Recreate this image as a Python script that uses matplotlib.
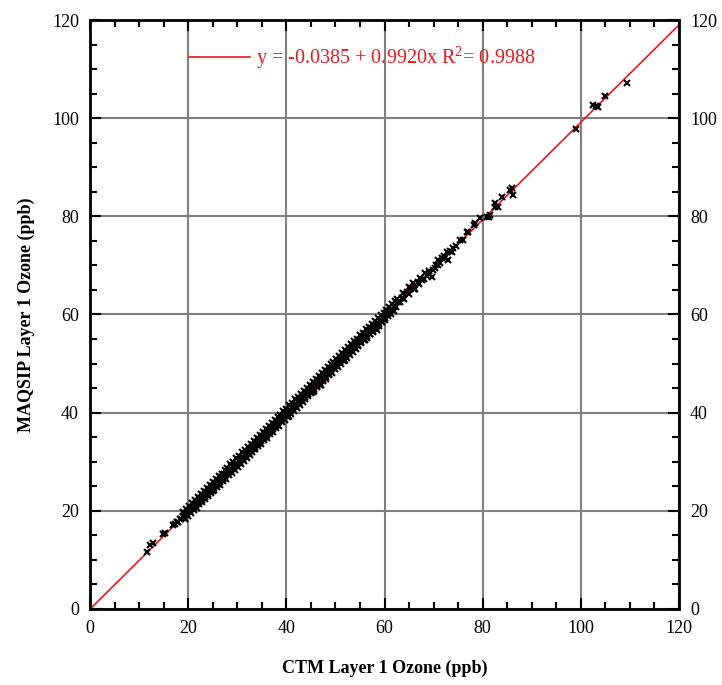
import matplotlib
matplotlib.use("Agg")
import matplotlib.pyplot as plt
from matplotlib.ticker import MultipleLocator

plt.rcParams['font.family'] = ['Liberation Serif', 'DejaVu Serif']
plt.rcParams['mathtext.fontset'] = 'custom'
plt.rcParams['mathtext.rm'] = 'Liberation Serif'

# regression from the chart
intercept = -0.0385
slope = 0.9920
r2 = 0.9988

# (CTM, MAQSIP) pairs, in ppb
low_tail = [(11.6, 11.6), (12.2, 13.0), (12.8, 13.4), (14.9, 15.3), (15.3, 15.5),
            (17.0, 17.2)]

dense_band = [
    (17.4, 17.3), (17.7, 17.8), (18.0, 17.7), (18.3, 18.3), (18.6, 18.3), (18.9, 18.9),
    (19.2, 18.8), (19.5, 19.6), (19.8, 19.4), (20.1, 20.2), (20.4, 19.9), (20.7, 20.8),
    (21.0, 20.6), (21.3, 21.4), (21.6, 21.1), (21.9, 22.0), (22.2, 21.8), (22.5, 22.6),
    (22.8, 22.2), (23.1, 23.2), (23.4, 22.9), (23.7, 23.8), (24.0, 23.5), (24.3, 24.4),
    (24.6, 24.1), (24.9, 25.0), (25.2, 24.6), (25.5, 25.6), (25.8, 25.3), (26.1, 26.2),
    (26.4, 25.8), (26.7, 26.8), (27.0, 26.5), (27.3, 27.4), (27.6, 27.0), (27.9, 28.0),
    (28.2, 27.7), (28.5, 28.6), (28.8, 28.2), (29.1, 29.2), (29.4, 28.9), (29.7, 29.8),
    (30.0, 29.5), (30.3, 30.4), (30.6, 30.0), (30.9, 31.0), (31.2, 30.6), (31.5, 31.6),
    (31.8, 31.2), (32.1, 32.2), (32.4, 31.8), (32.7, 32.8), (33.0, 32.5), (33.3, 33.4),
    (33.6, 33.0), (33.9, 34.0), (34.2, 33.6), (34.5, 34.6), (34.8, 34.2), (35.1, 35.2),
    (35.4, 34.8), (35.7, 35.8), (36.0, 35.4), (36.3, 36.4), (36.6, 36.0), (36.9, 37.0),
    (37.2, 36.6), (37.5, 37.6), (37.8, 37.2), (38.1, 38.2), (38.4, 37.8), (38.7, 38.8),
    (39.0, 38.4), (39.3, 39.4), (39.6, 39.0), (39.9, 40.0), (40.2, 39.6), (40.5, 40.6),
    (40.8, 40.2), (41.1, 41.2), (41.4, 40.8), (41.7, 41.8), (42.0, 41.4), (42.3, 42.4),
    (42.6, 42.0), (42.9, 43.0), (43.2, 42.5), (43.5, 43.6), (43.8, 43.1), (44.1, 44.2),
    (44.4, 43.7), (44.7, 44.8), (45.0, 44.3), (45.3, 45.4), (45.6, 44.9), (45.9, 46.0),
    (46.2, 45.5), (46.5, 46.6), (46.8, 46.1), (47.1, 47.2), (47.4, 46.7), (47.7, 47.8),
    (48.0, 47.3), (48.3, 48.4), (48.6, 47.9), (48.9, 49.0), (49.2, 48.5), (49.5, 49.6),
    (49.8, 49.1), (50.1, 50.2), (50.4, 49.7), (50.7, 50.8), (51.0, 50.3), (51.3, 51.3),
    (51.6, 50.9), (51.9, 52.0), (52.2, 51.5), (52.5, 52.5), (52.8, 52.1), (53.1, 53.1),
    (53.4, 52.6), (53.7, 53.7), (54.0, 53.2), (54.3, 54.3), (54.6, 53.8), (54.9, 54.8),
    (55.2, 54.4), (55.5, 55.4), (55.8, 55.0), (56.1, 56.0), (56.4, 55.6), (56.7, 56.6),
    (57.0, 56.1), (57.3, 57.2), (57.6, 56.7), (57.9, 57.8), (58.2, 57.4), (58.5, 58.3),
    (58.8, 58.0), (59.1, 58.9), (59.4, 58.5), (59.7, 59.4), (60.0, 59.2),
    (25.0, 24.0), (33.5, 32.6), (40.5, 39.3), (45.5, 44.2), (47.0, 45.7), (52.0, 50.7),
    (56.0, 54.8), (58.4, 56.9),
]

# points along the upper and lower edges of the dense band
band_top = [
    (19.0, 19.7), (19.6, 20.4), (20.2, 21.0), (20.8, 21.6), (21.4, 22.3), (22.0, 22.8),
    (22.6, 23.5), (23.2, 24.0), (23.8, 24.7), (24.4, 25.2), (25.0, 25.9), (25.6, 26.4),
    (26.2, 27.1), (26.8, 27.6), (27.4, 28.3), (28.0, 28.8), (28.6, 29.5), (29.2, 30.0),
    (29.8, 30.7), (30.4, 31.2), (31.0, 31.9), (31.6, 32.4), (32.2, 33.1), (32.8, 33.6),
    (33.4, 34.3), (34.0, 34.8), (34.6, 35.5), (35.2, 36.0), (35.8, 36.7), (36.4, 37.2),
    (37.0, 37.9), (37.6, 38.4), (38.2, 39.1), (38.8, 39.6), (39.4, 40.3), (40.0, 40.8),
    (40.6, 41.5), (41.2, 42.0), (41.8, 42.7), (42.4, 43.2), (43.0, 43.9), (43.6, 44.4),
    (44.2, 45.1), (44.8, 45.6), (45.4, 46.3), (46.0, 46.8), (46.6, 47.5), (47.2, 48.0),
    (47.8, 48.7), (48.4, 49.2), (49.0, 49.9), (49.6, 50.4), (50.2, 51.0), (50.8, 51.6),
    (51.4, 52.2), (52.0, 52.7), (52.6, 53.4), (53.2, 53.9), (53.8, 54.6), (54.4, 55.1),
    (55.0, 55.8), (55.6, 56.3), (56.2, 57.0), (56.8, 57.5), (57.4, 58.1), (58.0, 58.7),
    (58.6, 59.3), (59.2, 59.9), (59.8, 60.4), (60.4, 61.0), (61.0, 61.6), (61.6, 62.1),
    (62.2, 62.7),
]

band_bottom = [
    (19.3, 18.4), (19.9, 19.0), (20.5, 19.5), (21.1, 20.1), (21.7, 20.6), (22.3, 21.3),
    (22.9, 21.8), (23.5, 22.5), (24.1, 23.0), (24.7, 23.6), (25.3, 24.2), (25.9, 24.8),
    (26.5, 25.3), (27.1, 26.0), (27.7, 26.5), (28.3, 27.2), (28.9, 27.7), (29.5, 28.4),
    (30.1, 28.9), (30.7, 29.6), (31.3, 30.1), (31.9, 30.8), (32.5, 31.3), (33.1, 32.0),
    (33.7, 32.5), (34.3, 33.2), (34.9, 33.7), (35.5, 34.4), (36.1, 34.9), (36.7, 35.6),
    (37.3, 36.1), (37.9, 36.8), (38.5, 37.3), (39.1, 38.0), (39.7, 38.5), (40.3, 39.2),
    (40.9, 39.7), (41.5, 40.4), (42.1, 40.9), (42.7, 41.6), (43.3, 42.1), (43.9, 42.8),
    (44.5, 43.3), (45.1, 44.0), (45.7, 44.5), (46.3, 45.2), (46.9, 45.7), (47.5, 46.4),
    (48.1, 46.9), (48.7, 47.6), (49.3, 48.1), (49.9, 48.8), (50.5, 49.3), (51.1, 50.0),
    (51.7, 50.5), (52.3, 51.2), (52.9, 51.7), (53.5, 52.4), (54.1, 52.9), (54.7, 53.6),
    (55.3, 54.1), (55.9, 54.8), (56.5, 55.3), (57.1, 56.0), (57.7, 56.5), (58.3, 57.2),
    (58.9, 57.7), (59.5, 58.4), (60.1, 58.9), (60.7, 59.6), (61.3, 60.1), (61.9, 60.8),
]

upper_band = [
    (60.4, 60.3), (60.8, 60.2), (61.2, 61.0), (61.6, 61.2), (62.0, 61.8), (62.4, 61.6),
    (62.8, 62.6), (63.2, 62.5), (63.6, 63.3), (64.0, 63.2), (64.5, 64.5), (65.0, 64.2),
    (65.5, 65.4), (65.9, 66.4), (66.3, 65.2), (66.8, 66.6), (67.2, 67.4), (67.7, 67.0),
    (68.2, 68.4), (68.6, 67.8), (69.1, 68.8), (69.6, 67.6), (69.9, 69.0), (70.4, 70.1),
    (70.8, 70.0), (71.3, 70.5), (71.8, 71.5), (72.2, 72.0), (72.7, 72.7), (73.0, 71.1),
    (73.4, 73.0), (74.0, 73.5), (74.5, 74.0), (75.4, 75.2), (76.0, 75.2), (76.8, 76.8),
    (77.0, 76.8), (78.2, 78.2), (78.4, 78.6), (79.4, 79.6), (80.8, 79.8), (81.3, 79.8),
    (81.5, 80.2), (82.5, 82.7), (82.5, 81.9), (83.1, 81.9), (83.9, 84.0), (85.5, 85.3),
    (85.9, 85.7), (86.2, 84.3),
    (62.6, 63.2), (63.8, 64.4), (64.9, 65.5), (66.0, 65.1), (67.0, 66.2), (68.0, 67.3),
    (69.0, 68.3), (70.2, 69.5), (71.0, 71.2), (72.4, 71.6), (73.8, 72.8),
]

high_outliers = [(99.0, 97.8), (102.4, 102.6), (103.0, 102.5), (103.5, 102.2),
                 (104.9, 104.6), (109.4, 107.1)]

pts = low_tail + dense_band + band_top + band_bottom + upper_band + high_outliers
ctm = [p[0] for p in pts]
maqsip = [p[1] for p in pts]

fig = plt.figure(figsize=(7.22, 6.85), dpi=100)
ax = fig.add_axes([0.1247, 0.111, 0.8157, 0.8598])

ax.grid(True, which='major', color='#808080', linewidth=1.5)
ax.set_axisbelow(True)

fit_x = [0, 120]
fit_y = [intercept + slope * v for v in fit_x]
ax.plot(fit_x, fit_y, color='#e8191d', linewidth=1.2,
        label='y = -0.0385 + 0.9920x R$^{2}$= 0.9988', zorder=2)
ax.plot(ctm, maqsip, linestyle='none', marker='x', color='black',
        markersize=4.4, markeredgewidth=1.5, zorder=3)

ax.set_xlim(0, 120)
ax.set_ylim(0, 120)
ax.xaxis.set_major_locator(MultipleLocator(20))
ax.yaxis.set_major_locator(MultipleLocator(20))
ax.xaxis.set_minor_locator(MultipleLocator(5))
ax.yaxis.set_minor_locator(MultipleLocator(5))
ax.tick_params(which='both', direction='in', top=True, right=True,
               labelright=True, width=1.5, labelsize=13, pad=8)
ax.tick_params(which='major', length=8)
ax.tick_params(which='minor', length=5)
for s in ax.spines.values():
    s.set_linewidth(2)

ax.set_xlabel('CTM Layer 1 Ozone (ppb)', fontsize=13, fontweight='bold', labelpad=16)
ax.set_ylabel('MAQSIP Layer 1 Ozone (ppb)', fontsize=13, fontweight='bold', labelpad=12)

leg = ax.legend(loc='upper center', bbox_to_anchor=(0.462, 0.99), frameon=False,
                fontsize=14.5, handlelength=3.0, handletextpad=0.3)
for t in leg.get_texts():
    t.set_color('#e8191d')

fig.savefig('out.png', dpi=100)
